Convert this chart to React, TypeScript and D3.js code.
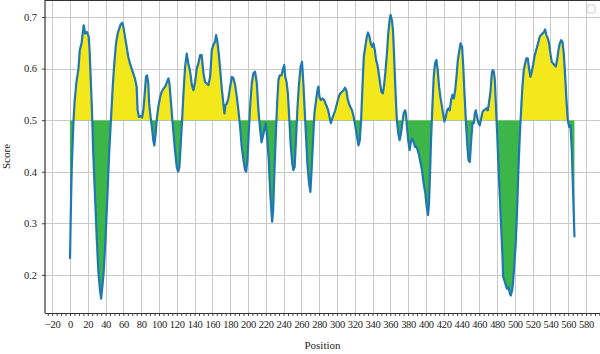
import { useEffect, useRef } from 'react'
import * as d3 from 'd3'

// residue position along the sequence
const positions = [
  0, 1, 2, 4, 5, 7, 9.5, 11, 13, 14, 15.4, 17, 19, 21, 22, 23.2, 24.7, 26, 28, 30, 31.8, 33.7, 35, 36.7, 38, 40,
  42, 44, 46, 48, 49.8, 51.7, 53.6, 55.4, 57, 58.8, 60, 61.8, 63.7, 65.5, 67.4, 69.3, 71, 73, 74.9, 76, 77.5, 79.4,
  81, 82.4, 84, 85.4, 86.5, 88, 89, 90.6, 92, 93.6, 94.8, 96.3, 97.4, 99.3, 101.3, 103, 105, 107, 109, 110.6, 111.8,
  113, 114.8, 116, 118, 120, 121.5, 123, 124.5, 126, 127.5, 129.4, 131.2, 133, 135, 137, 138.7, 140.6, 142.5, 144.3,
  146.2, 148, 150, 151.8, 153.7, 155.6, 157.5, 159.4, 161.2, 163, 164.2, 165.7, 167.2, 168.7, 170.6, 172.4, 173.6,
  174.7, 176.2, 178, 180, 181.9, 183.7, 185.6, 187.5, 189.3, 191.2, 193, 195, 196.8, 198, 199.4, 200.9, 202.4, 204.3,
  206.1, 208, 210, 211.8, 213.7, 215.3, 217.3, 219.2, 220, 221.5, 223.4, 225.3, 227.2, 228.3, 229.8, 231.3, 232.8,
  234.3, 235.8, 237.7, 239.6, 240.8, 241.9, 243.4, 244.9, 246.4, 247.9, 249.8, 251, 252.5, 254, 255.5, 257.4, 259.2,
  260.8, 262.3, 263.8, 265.3, 266.8, 268.7, 270.2, 271.7, 273.2, 274.7, 276.6, 278.1, 279.2, 280.4, 281.9, 283.8,
  285.7, 287.2, 288.7, 290.2, 291.7, 293.2, 294.7, 296.2, 298.1, 300, 301.9, 303.8, 305.7, 307.5, 309, 310.6, 312,
  313.6, 315, 317, 318.9, 320.8, 322.6, 324.2, 325.7, 327.2, 328.7, 330.2, 331.7, 333.6, 335, 336.6, 338, 339.6, 341,
  342.6, 344, 345.6, 347, 348.6, 350, 351.6, 353, 354.7, 356.2, 357.7, 359.2, 360.3, 361.8, 363, 364, 365.2, 366.3,
  367.4, 369, 370.5, 372, 373.5, 375, 376.5, 377.6, 378.7, 380.2, 381.7, 383.2, 384.7, 386.2, 387.7, 389.2, 390.8,
  392.3, 393.8, 395.6, 397.5, 399.4, 400.9, 402.4, 403.5, 404.7, 405.8, 407.3, 408.8, 410.3, 411.8, 413.3, 414.8,
  416.3, 417.8, 419.3, 420.8, 422.3, 423.8, 425.3, 426.8, 428.3, 429.8, 431.4, 432.9, 434.4, 435.9, 437.4, 438.9,
  440.7, 442, 443.4, 444.9, 446.4, 447.9, 449.4, 450.9, 452.4, 453.9, 455, 456.1, 457.6, 459.1, 460.6, 462.1, 463.6,
  465.1, 466.6, 468.1, 469.6, 471.1, 472.6, 474.1, 475.2, 476.3, 477.5, 478.6, 480.1, 481.6, 483.1, 484.6, 486.1,
  486.8, 488.3, 489.8, 491.3, 492.8, 494.3, 495.4, 496.9, 498, 499.5, 501, 502.5, 504, 505.5, 507, 508.5, 510, 511.5,
  513, 514.5, 516, 517.5, 519, 520.5, 522, 523.5, 525, 526.5, 528, 529.5, 531, 532.5, 534, 535.5, 537, 538.5, 540,
  541.5, 543, 544.5, 546, 547.5, 549, 550.5, 552, 553.5, 555, 556.6, 558, 559.5, 561, 562.5, 564, 565.5, 567
]

const scores = [
  0.231, 0.33, 0.41, 0.5, 0.532, 0.571, 0.6, 0.636, 0.649, 0.665, 0.684, 0.668, 0.671, 0.662, 0.636, 0.584, 0.519,
  0.442, 0.358, 0.273, 0.209, 0.17, 0.154, 0.183, 0.209, 0.273, 0.351, 0.435, 0.5, 0.565, 0.61, 0.649, 0.668, 0.678,
  0.686, 0.689, 0.681, 0.662, 0.642, 0.623, 0.61, 0.6, 0.591, 0.581, 0.565, 0.519, 0.506, 0.508, 0.505, 0.519, 0.552,
  0.584, 0.587, 0.571, 0.532, 0.506, 0.487, 0.461, 0.451, 0.474, 0.5, 0.526, 0.545, 0.555, 0.561, 0.565, 0.574, 0.581,
  0.571, 0.545, 0.506, 0.481, 0.442, 0.409, 0.4, 0.409, 0.455, 0.5, 0.552, 0.604, 0.629, 0.61, 0.594, 0.568, 0.558,
  0.574, 0.6, 0.61, 0.626, 0.626, 0.591, 0.574, 0.571, 0.568, 0.584, 0.636, 0.646, 0.652, 0.665, 0.652, 0.629, 0.6,
  0.561, 0.532, 0.513, 0.529, 0.532, 0.542, 0.565, 0.584, 0.581, 0.568, 0.545, 0.519, 0.487, 0.448, 0.422, 0.403, 0.4,
  0.422, 0.474, 0.526, 0.571, 0.591, 0.594, 0.571, 0.519, 0.481, 0.457, 0.472, 0.488, 0.494, 0.468, 0.422, 0.351,
  0.303, 0.325, 0.403, 0.468, 0.532, 0.578, 0.587, 0.587, 0.6, 0.607, 0.584, 0.574, 0.552, 0.506, 0.455, 0.416, 0.403,
  0.409, 0.461, 0.519, 0.571, 0.604, 0.613, 0.571, 0.519, 0.468, 0.416, 0.377, 0.361, 0.409, 0.461, 0.513, 0.539,
  0.558, 0.565, 0.545, 0.539, 0.542, 0.539, 0.532, 0.526, 0.519, 0.506, 0.494, 0.503, 0.51, 0.519, 0.532, 0.545, 0.552,
  0.555, 0.558, 0.563, 0.558, 0.542, 0.532, 0.526, 0.519, 0.506, 0.487, 0.468, 0.451, 0.461, 0.5, 0.565, 0.623, 0.64,
  0.662, 0.67, 0.662, 0.649, 0.642, 0.649, 0.636, 0.617, 0.607, 0.591, 0.571, 0.555, 0.552, 0.568, 0.597, 0.629, 0.668,
  0.694, 0.704, 0.694, 0.675, 0.636, 0.584, 0.539, 0.5, 0.474, 0.461, 0.474, 0.494, 0.513, 0.519, 0.513, 0.487, 0.461,
  0.442, 0.458, 0.464, 0.458, 0.448, 0.448, 0.442, 0.432, 0.419, 0.403, 0.377, 0.358, 0.332, 0.316, 0.338, 0.397,
  0.461, 0.526, 0.584, 0.61, 0.617, 0.597, 0.565, 0.545, 0.529, 0.513, 0.497, 0.506, 0.519, 0.523, 0.519, 0.539,
  0.549, 0.542, 0.558, 0.584, 0.617, 0.633, 0.649, 0.642, 0.604, 0.552, 0.5, 0.455, 0.422, 0.419, 0.461, 0.494, 0.494,
  0.513, 0.519, 0.506, 0.494, 0.49, 0.503, 0.516, 0.519, 0.521, 0.523, 0.519, 0.536, 0.555, 0.591, 0.597, 0.594,
  0.578, 0.532, 0.474, 0.409, 0.351, 0.293, 0.235, 0.196, 0.189, 0.18, 0.173, 0.177, 0.164, 0.16, 0.17, 0.186, 0.222,
  0.261, 0.325, 0.403, 0.468, 0.519, 0.565, 0.597, 0.61, 0.62, 0.62, 0.6, 0.584, 0.594, 0.607, 0.623, 0.633, 0.642,
  0.652, 0.662, 0.665, 0.668, 0.67, 0.676, 0.665, 0.659, 0.649, 0.629, 0.613, 0.61, 0.607, 0.604, 0.617, 0.636, 0.649,
  0.655, 0.652, 0.629, 0.584, 0.539, 0.5, 0.487, 0.49, 0.442, 0.358, 0.273
]

const xTickLabels = d3.range(-20, 581, 20)
const xMinorTicks = d3.range(-25, 596, 5)
const yTickLabels = [0.2, 0.3, 0.4, 0.5, 0.6, 0.7]
const threshold = 0.5

const width = 600
const height = 354
const margin = { top: 0, right: 0, bottom: 41, left: 45 }
const font = '"Liberation Serif", "DejaVu Serif", serif'

const App = () => {
  const svgRef = useRef<SVGSVGElement>(null)

  useEffect(() => {
    if (!svgRef.current) return
    const svg = d3.select(svgRef.current)
    svg.selectAll('*').remove()

    const data = positions.map((p, i) => ({ p, v: scores[i] }))
    const bottom = height - margin.bottom

    const x = d3.scaleLinear().domain([-28.1, 595.7]).range([margin.left, width - margin.right])
    const y = d3.scaleLinear().domain([0.126, 0.733]).range([bottom, margin.top])

    // grid
    const grid = svg.append('g').attr('stroke', '#c9c9c9').attr('stroke-width', 1)
    grid.selectAll('line.v')
      .data(xTickLabels)
      .join('line')
      .attr('class', 'v')
      .attr('x1', d => Math.round(x(d)) + 0.5)
      .attr('x2', d => Math.round(x(d)) + 0.5)
      .attr('y1', margin.top)
      .attr('y2', bottom)
    grid.selectAll('line.h')
      .data(yTickLabels)
      .join('line')
      .attr('class', 'h')
      .attr('x1', margin.left)
      .attr('x2', width - margin.right)
      .attr('y1', d => Math.round(y(d)) + 0.5)
      .attr('y2', d => Math.round(y(d)) + 0.5)

    // fills above / below threshold
    const defs = svg.append('defs')
    defs.append('clipPath').attr('id', 'clip-above')
      .append('rect')
      .attr('x', margin.left).attr('y', margin.top)
      .attr('width', width - margin.left).attr('height', y(threshold) - margin.top)
    defs.append('clipPath').attr('id', 'clip-below')
      .append('rect')
      .attr('x', margin.left).attr('y', y(threshold))
      .attr('width', width - margin.left).attr('height', bottom - y(threshold))

    const area = d3.area<{ p: number; v: number }>()
      .x(d => x(d.p))
      .y0(y(threshold))
      .y1(d => y(d.v))

    svg.append('path').datum(data)
      .attr('d', area)
      .attr('fill', '#f2e81c')
      .attr('clip-path', 'url(#clip-above)')
    svg.append('path').datum(data)
      .attr('d', area)
      .attr('fill', '#3cb549')
      .attr('clip-path', 'url(#clip-below)')

    const line = d3.line<{ p: number; v: number }>()
      .x(d => x(d.p))
      .y(d => y(d.v))

    svg.append('path').datum(data)
      .attr('d', line)
      .attr('fill', 'none')
      .attr('stroke', '#1f77b4')
      .attr('stroke-width', 2.2)
      .attr('stroke-linejoin', 'round')

    // axes
    const xAxis = svg.append('g')
      .attr('transform', `translate(0,${bottom})`)
      .call(d3.axisBottom(x)
        .tickValues(xMinorTicks)
        .tickSize(3)
        .tickSizeOuter(0)
        .tickPadding(5)
        .tickFormat(d => (+d % 20 === 0 ? d3.format('d')(+d).replace('-', '–') : '')))
    xAxis.select('.domain').remove()
    xAxis.selectAll('text')
      .attr('font-family', font)
      .attr('font-size', 10.5)
      .attr('letter-spacing', -0.3)
      .attr('fill', '#222')
    xAxis.selectAll('line').attr('stroke', '#444')

    const yAxis = svg.append('g')
      .attr('transform', `translate(${margin.left},0)`)
      .call(d3.axisLeft(y)
        .tickValues(yTickLabels)
        .tickSize(3)
        .tickSizeOuter(0)
        .tickPadding(5)
        .tickFormat(d3.format('.1f')))
    yAxis.select('.domain').remove()
    yAxis.selectAll('text').attr('font-family', font).attr('font-size', 10.5).attr('fill', '#222')
    yAxis.selectAll('line').attr('stroke', '#444')

    // frame
    const frame = svg.append('g').attr('stroke', '#333').attr('stroke-width', 1.2)
    frame.append('line').attr('x1', margin.left).attr('x2', margin.left).attr('y1', margin.top).attr('y2', bottom)
    frame.append('line').attr('x1', margin.left).attr('x2', width).attr('y1', bottom + 0.5).attr('y2', bottom + 0.5)
    frame.append('line').attr('x1', margin.left).attr('x2', width).attr('y1', margin.top + 0.5).attr('y2', margin.top + 0.5)

    // axis titles
    svg.append('text')
      .attr('x', (margin.left + width - margin.right) / 2)
      .attr('y', 349)
      .attr('text-anchor', 'middle')
      .attr('font-family', font)
      .attr('font-size', 11)
      .attr('fill', '#222')
      .text('Position')
    svg.append('text')
      .attr('transform', `translate(10,${(margin.top + bottom) / 2}) rotate(-90)`)
      .attr('text-anchor', 'middle')
      .attr('font-family', font)
      .attr('font-size', 11)
      .attr('fill', '#222')
      .text('Score')

    // empty legend box
    svg.append('rect')
      .attr('x', 587).attr('y', 5)
      .attr('width', 8).attr('height', 8)
      .attr('rx', 2)
      .attr('fill', '#fff')
      .attr('stroke', '#ccc')
  }, [])

  return (
    <svg
      ref={svgRef}
      width={width}
      height={height}
      style={{ position: 'absolute', left: 0, top: 0, background: '#fff' }}
    />
  )
}

export default App
